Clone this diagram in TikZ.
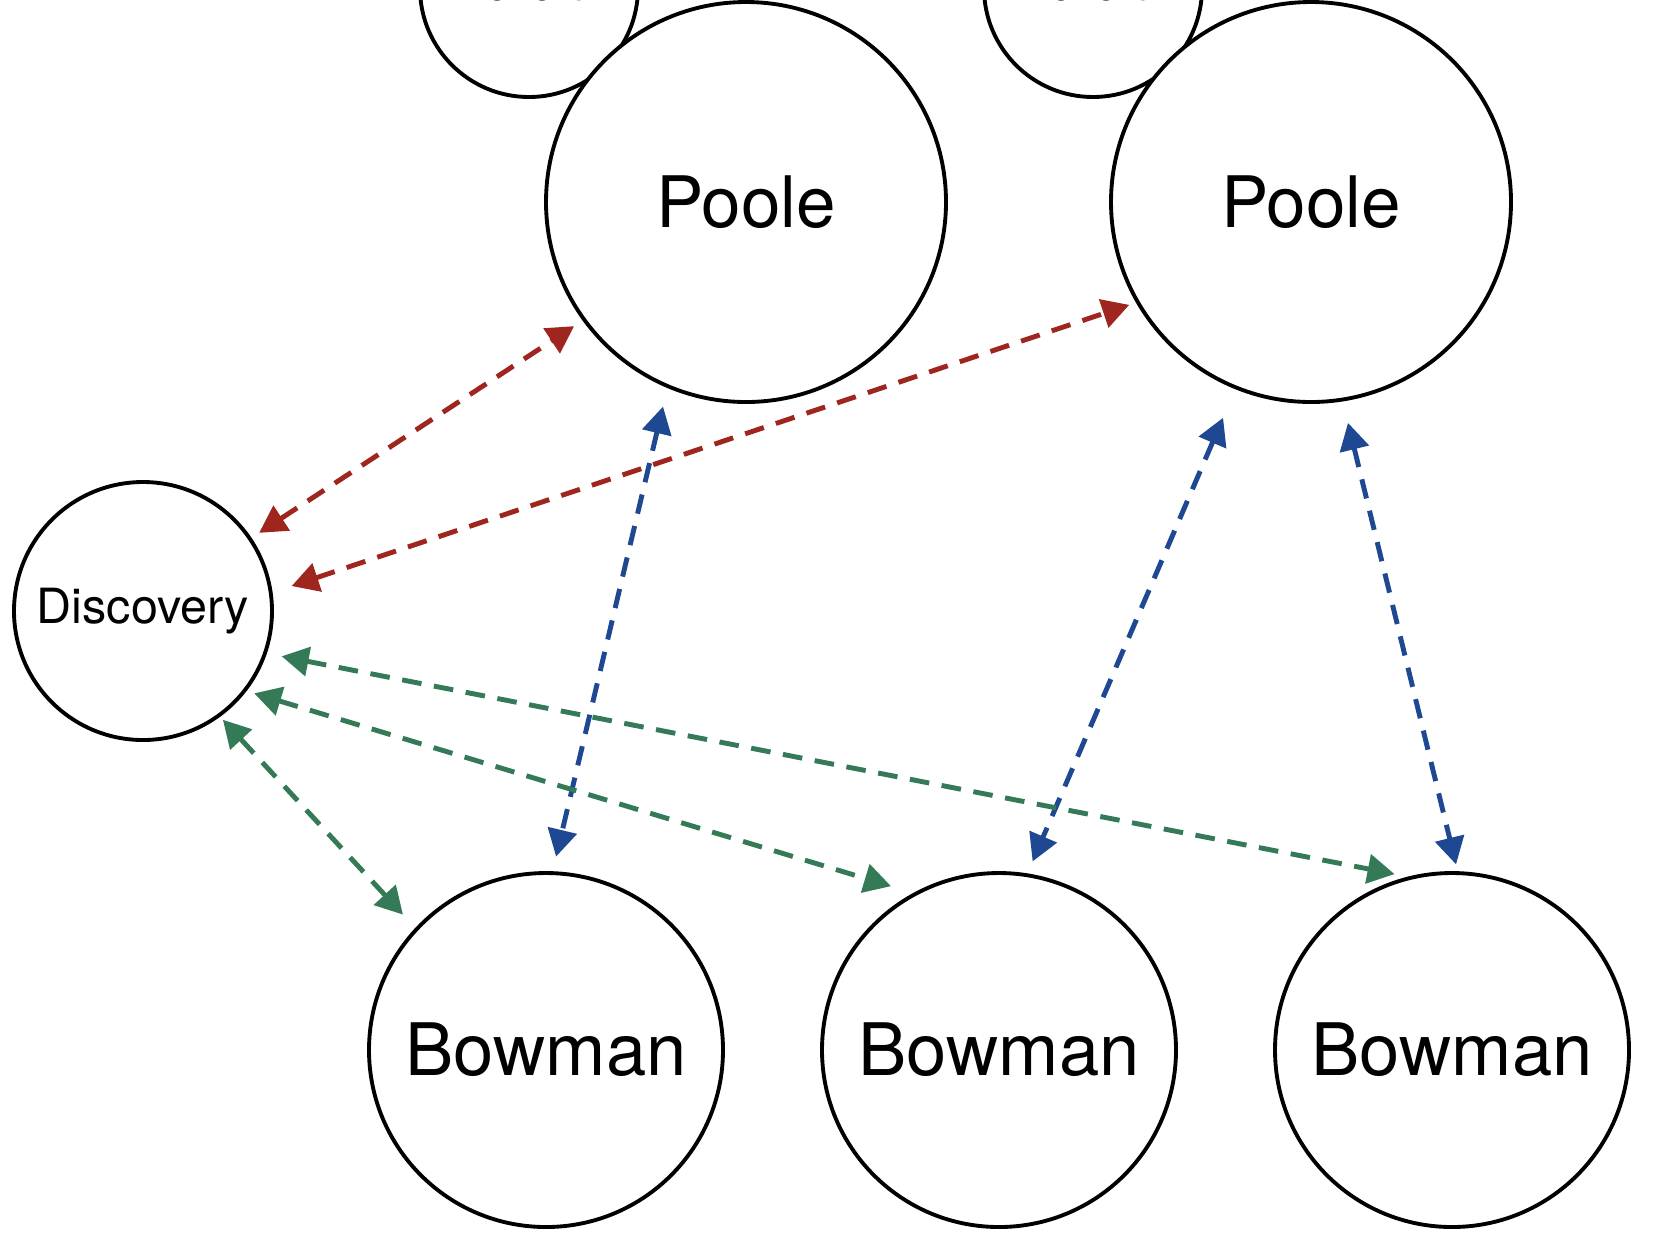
\documentclass[tikz,border=0pt]{standalone}
\usepackage{fontspec}
\setmainfont{TeX Gyre Heros}
\usetikzlibrary{arrows.meta,positioning}

\definecolor{linkred}{RGB}{158,38,30}
\definecolor{linkblue}{RGB}{30,72,145}
\definecolor{linkgreen}{RGB}{52,122,86}

\begin{document}
\begin{tikzpicture}[
  agent/.style={circle, draw, line width=1.1pt, outer sep=0pt, inner sep=0pt},
  poolenode/.style={agent, minimum size=4cm, font=\fontsize{20.2}{24}\selectfont},
  bownode/.style={agent, minimum size=3.54cm, font=\fontsize{20.6}{24}\selectfont},
  shipnode/.style={agent, minimum size=2.58cm, font=\fontsize{13.8}{16}\selectfont},
  mononode/.style={agent, minimum size=2.18cm, font=\fontsize{11.5}{14}\selectfont},
  link/.style={{Triangle[length=0.27cm,width=0.29cm]}-{Triangle[length=0.27cm,width=0.29cm]}, line width=1.4pt, dash pattern=on 5.6pt off 3.6pt},
  redlink/.style={link, linkred},
  bluelink/.style={link, linkblue},
  greenlink/.style={link, linkgreen}
]

\useasboundingbox (0,0) rectangle (16.6,-12.46);
\clip (0,0) rectangle (16.6,-12.46);

\node[mononode] (mono1) at (5.29,0.12) {\raisebox{0.04cm}{Monolith}};
\node[mononode, right =3.46cm of mono1] (mono2) {\raisebox{0.04cm}{Monolith}};

\node[poolenode, fill=white] (poole1) at (7.46,-2.02) {Poole};
\node[poolenode, fill=white, right =1.65cm of poole1] (poole2) {Poole};

\node[shipnode] (disc) at (1.43,-6.11) {Discovery};

\node[bownode] (bow1) at (5.46,-10.50) {Bowman};
\node[bownode, right =.99cm of bow1] (bow2) {Bowman};
\node[bownode, right =.99cm of bow2] (bow3) {Bowman};

\draw [redlink, shorten <=0.11cm, shorten >=0.12cm] (disc.34) to (poole1.216);
\draw [redlink, shorten <=0.22cm, shorten >=0.09cm] (disc.8) to (poole2.210);

\draw [bluelink, shorten <=0.21cm, shorten >=0.17cm] (poole1.247) to (bow1.88);
\draw [bluelink, shorten <=0.33cm, shorten >=0.15cm] (poole2.248) to (bow2.81);
\draw [bluelink, shorten <=0.24cm, shorten >=0.09cm] (poole2.279) to (bow3.88);

\draw [greenlink, shorten <=0.06cm, shorten >=0.20cm] (disc.-54) to (bow1.137);
\draw [greenlink, shorten <=0.10cm, shorten >=0.26cm] (disc.-38) to (bow2.118);
\draw [greenlink, shorten <=0.17cm, shorten >=0.18cm] (disc.-19) to (bow3.103);

\end{tikzpicture}
\end{document}
